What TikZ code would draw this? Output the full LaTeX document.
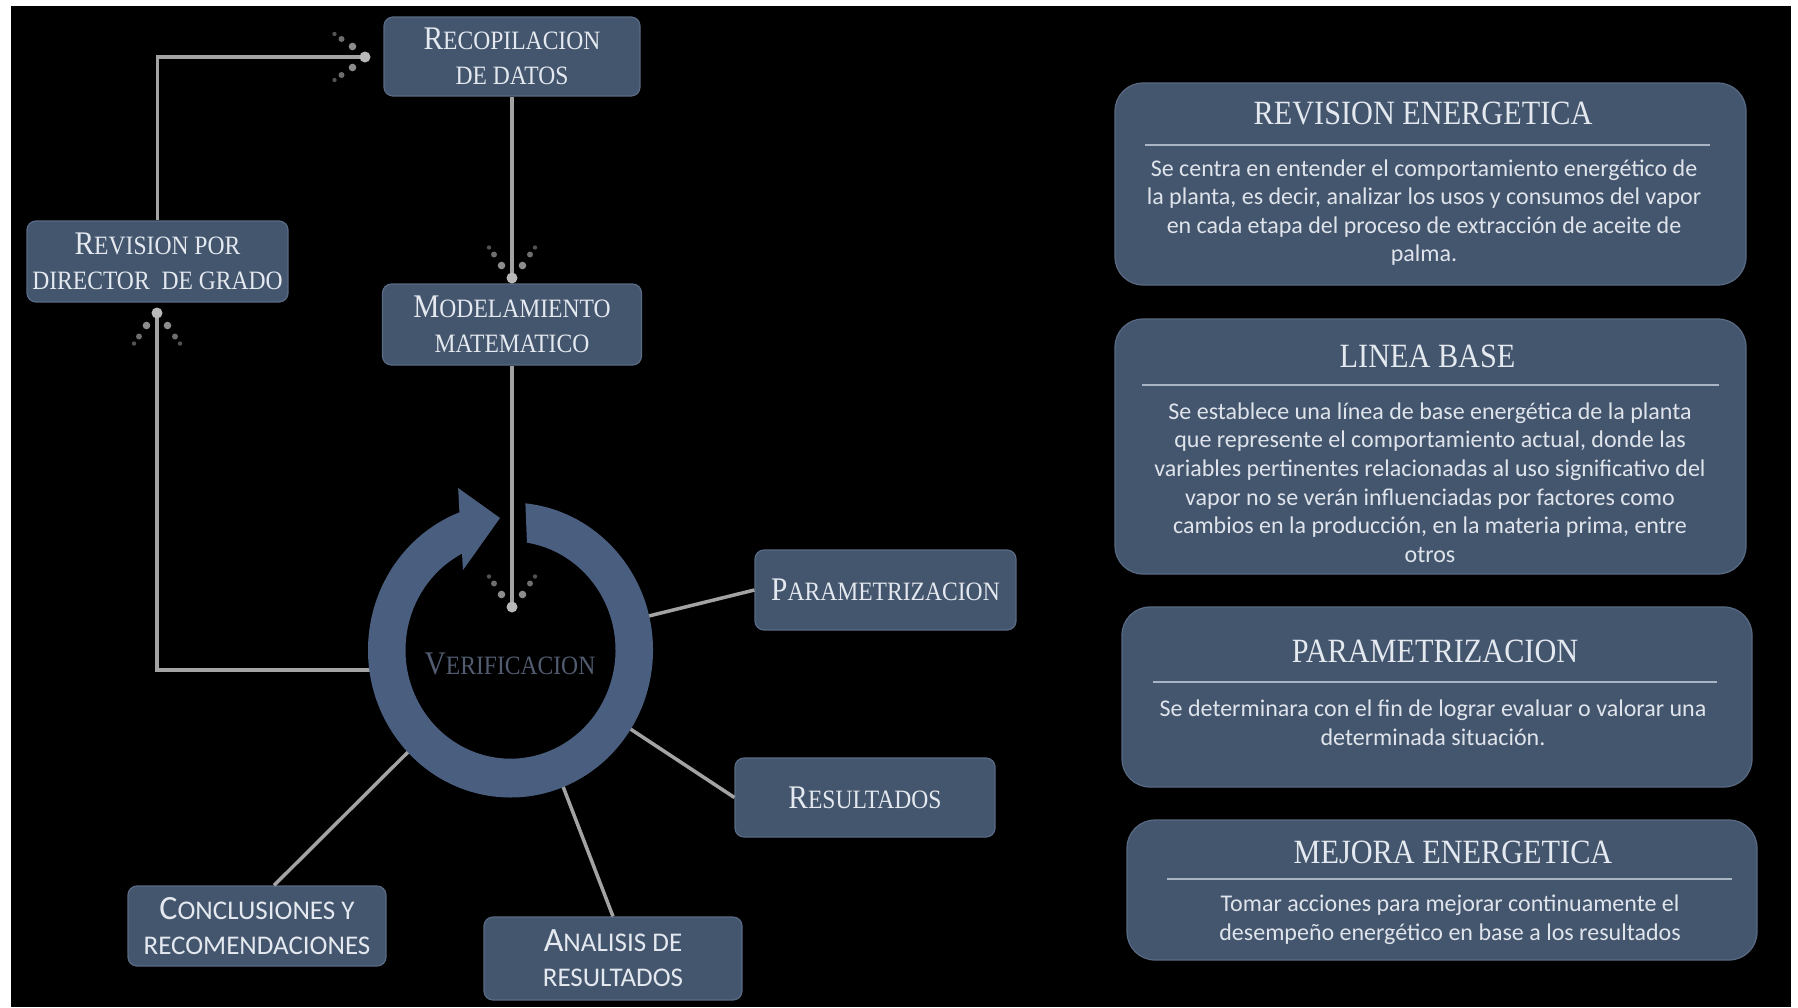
\documentclass[tikz,border=0pt]{standalone}
\usepackage{fontspec}
\setmainfont{Liberation Serif}
\newfontfamily\capserif[FakeStretch=0.89]{Liberation Serif}
\newfontfamily\bodysans{Carlito}
\usetikzlibrary{calc}

\definecolor{stagefill}{HTML}{44556E}
\definecolor{stageedge}{HTML}{586A84}
\definecolor{ringblue}{HTML}{4A5F80}
\definecolor{connline}{HTML}{A3A3A3}
\definecolor{labeltext}{HTML}{E4E9EF}
\definecolor{bodytext}{HTML}{DFE4EB}
\definecolor{ruleline}{HTML}{A9B4C4}
\definecolor{hubtext}{HTML}{525C70}

% enlarged initial for the small-caps labels
\newcommand\ini[1]{{\fontsize{33}{35}\selectfont #1}}
\newcommand\inis[1]{{\fontsize{34}{35}\selectfont #1}}

% round line end with a fan of fading dots behind it
\newcommand\sparkend[2]{%
  \begin{scope}[shift={(#1)}, x=1pt, y=1pt, rotate=#2]
    \fill[sparkA] (-12.5,10.5) circle (3.8) (-12.5,-10.5) circle (3.8);
    \fill[sparkB] (-23.5,18) circle (3) (-23.5,-18) circle (3);
    \fill[sparkC] (-30.5,23) circle (2.2) (-30.5,-23) circle (2.2);
    \fill[enddot] (0,0) circle (5.5);
  \end{scope}}

\begin{document}
\begin{tikzpicture}[x=1pt, y=-1pt,
  stage/.style={draw=stageedge, line width=1.2pt, fill=stagefill,
    rounded corners=9pt, text=labeltext, align=center, inner sep=0pt,
    font=\capserif\fontsize{26.5}{35}\selectfont},
  stagesans/.style={stage, font=\bodysans\fontsize{27}{35}\selectfont},
  infobox/.style={draw=stageedge, line width=1.2pt, fill=stagefill,
    rounded corners=28pt, inner sep=0pt},
  infotitle/.style={text=labeltext, inner sep=0pt,
    font=\capserif\fontsize{34}{40}\selectfont},
  infobody/.style={text=bodytext, align=center, inner sep=0pt,
    font=\bodysans\fontsize{24}{28.6}\selectfont},
  conn/.style={draw=connline, line width=3.5pt},
  rulesep/.style={draw=ruleline, line width=2pt},
  sparkA/.style={fill=black!45!white},
  sparkB/.style={fill=black!57!white},
  sparkC/.style={fill=black!68!white},
  enddot/.style={fill=black!28!white}]

\useasboundingbox (0,0) rectangle (1798,1007);
\fill[white] (0,0) rectangle (1798,1007);
\fill[black] (11,6) rectangle (1791,1007);

% ---- process stages ----
\node[stage, minimum width=256pt, minimum height=79pt] (reco) at (512,56.5)
  {\ini{R}ECOPILACION\\DE DATOS};
\node[stage, minimum width=261pt, minimum height=81pt] (revis) at (157.5,261.5)
  {\ini{R}EVISION POR\\DIRECTOR\ \ DE GRADO};
\node[stage, minimum width=259pt, minimum height=81pt] (model) at (512,324.5)
  {\ini{M}ODELAMIENTO\\MATEMATICO};
\node[stage, minimum width=261pt, minimum height=80pt] (param) at (885.5,590)
  {\ini{P}ARAMETRIZACION};
\node[stage, minimum width=260pt, minimum height=79pt] (resul) at (865,797.5)
  {\ini{R}ESULTADOS};
\node[stagesans, minimum width=258pt, minimum height=80pt] (concl) at (257,926)
  {\inis{C}ONCLUSIONES Y\\RECOMENDACIONES};
\node[stagesans, minimum width=258pt, minimum height=83pt] (anal) at (613,958.5)
  {\inis{A}NALISIS DE\\RESULTADOS};

% ---- connector anchors ----
\coordinate (hub) at (510.5,650);
\coordinate (recoIn) at (365,57);
\coordinate (modelIn) at (512,278);
\coordinate (hubIn) at (512,607);
\coordinate (revisIn) at (157,313);
\coordinate (ringW) at (385,670);
\coordinate (conclTop) at ($(concl.north)+(17,0)$);

% ---- connectors ----
\draw[conn] (ringW) -| (revisIn);
\draw[conn] (revis.north) |- (recoIn);
\draw[conn] (reco.south) -- (modelIn);
\draw[conn] (model.south) -- (hubIn);
\draw[conn] ($(hub)!125pt!(param.west)$) -- (param.west);
\draw[conn] ($(hub)!125pt!(resul.west)$) -- (resul.west);
\draw[conn] ($(hub)!125pt!(anal.north)$) -- (anal.north);
\draw[conn] ($(hub)!125pt!(conclTop)$) -- (conclTop);

% ---- circular arrow ----
\begin{scope}[shift={(hub)}, x=1pt, y=1pt, yscale=1.035]
  \fill[ringblue] (84:142.5) arc[start angle=84, end angle=-249, radius=142.5]
    -- (108.5:165) -- (94.7:128) -- (121.6:90.7) -- (117.5:105)
    arc[start angle=-242.5, end angle=81, radius=105] -- cycle;
\end{scope}
\node[font=\capserif\fontsize{26.5}{30}\selectfont, text=hubtext, inner sep=0pt]
  (verif) at (510,664) {\ini{V}ERIFICACION};

\sparkend{recoIn}{0}
\sparkend{modelIn}{-90}
\sparkend{hubIn}{-90}
\sparkend{revisIn}{90}

% ---- description panels ----
\node[infobox, minimum width=631pt, minimum height=202pt] (b1) at (1430.5,184) {};
\node[infotitle] (t1) at (1423,113) {REVISION ENERGETICA};
\draw[rulesep] (1145,145) -- (1710,145);
\node[infobody] (d1) at (1424,212.5) {Se centra en entender el comportamiento energético de\\
  la planta, es decir, analizar los usos y consumos del vapor\\
  en cada etapa del proceso de extracción de aceite de\\
  palma.};

\node[infobox, minimum width=631pt, minimum height=255pt] (b2) at (1430.5,446.5) {};
\node[infotitle] (t2) at (1427.5,356) {LINEA BASE};
\draw[rulesep] (1142,385) -- (1719,385);
\node[infobody] (d2) at (1430,482.5) {Se establece una línea de base energética de la planta\\
  que represente el comportamiento actual, donde las\\
  variables pertinentes relacionadas al uso significativo del\\
  vapor no se verán influenciadas por factores como\\
  cambios en la producción, en la materia prima, entre\\
  otros};

\node[infobox, minimum width=630pt, minimum height=180pt] (b3) at (1437,697) {};
\node[infotitle] (t3) at (1435,651) {PARAMETRIZACION};
\draw[rulesep] (1153,682) -- (1717,682);
\node[infobody] (d3) at (1433,722.5) {Se determinara con el fin de lograr evaluar o valorar una\\
  determinada situación.};

\node[infobox, minimum width=630pt, minimum height=140pt] (b4) at (1442,890) {};
\node[infotitle] (t4) at (1453,852) {MEJORA ENERGETICA};
\draw[rulesep] (1167,879) -- (1732,879);
\node[infobody] (d4) at (1450,920) {Tomar acciones para mejorar continuamente el\\
  desempeño energético en base a los resultados};
\end{tikzpicture}
\end{document}
